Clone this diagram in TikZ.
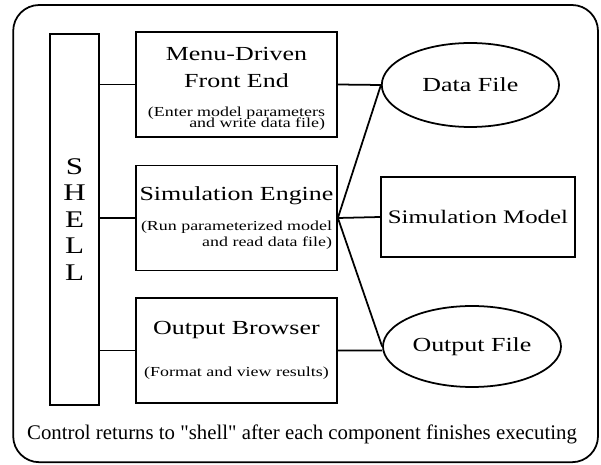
\documentclass[tikz,border=0pt]{standalone}
\usepackage{fontspec}
\setmainfont{Liberation Serif}[FakeStretch=1.3]
% plain family: no stretch and no TeX quote ligatures
\newfontfamily\plainrm{Liberation Serif}
\usetikzlibrary{
    shapes.geometric,
    positioning
}

\newcommand{\bigtxt}{\fontsize{14.2}{19}\selectfont}
\newcommand{\notetxt}{\fontsize{9.8}{12}\selectfont}
\newcommand{\shelltxt}{\fontsize{17}{18.8}\selectfont}

\begin{document}
\begin{tikzpicture}[
    line width=1.25pt,
    unit/.style={draw, rectangle, minimum width=5.025cm, minimum height=2.625cm,
        align=center, font=\bigtxt, inner sep=0pt},
    store/.style={draw, ellipse, minimum width=4.43cm, minimum height=2.1cm,
        font=\bigtxt, inner sep=0pt}
]
    \useasboundingbox (0, 0) rectangle (15.025, 11.625);
    \draw[rounded corners=0.65cm] (0.33, 0.07) rectangle (14.95, 11.5);

    % the shell and the three programs it starts
    \node[draw, minimum width=1.225cm, minimum height=9.275cm, align=center,
        font=\shelltxt] (shell) at (1.8625, 6.1375) {S\\H\\E\\L\\L};
    \node[unit] (front) at (5.9125, 9.5125) {\rule{0pt}{15.4pt}Menu-Driven\\Front End\\[9.5pt]
        \notetxt\shortstack[r]{(Enter model parameters\\[-4pt]and write data file)}};
    \node[unit] (engine) at (5.9125, 6.175) {Simulation Engine\\[10.5pt]
        \notetxt\shortstack[r]{(Run parameterized model\\[-0.8pt]and read data file)}};
    \node[unit] (browser) at (5.9125, 2.8625) {Output Browser\\[11pt]
        {\notetxt (Format and view results)}};

    % files and the model
    \node[store] (data) at (11.76, 9.5) {Data File};
    \node[draw, minimum width=4.85cm, minimum height=2cm, font=\fontsize{13.6}{19}\selectfont,
        inner sep=0pt] (model) at (11.95, 6.2) {Simulation Model};
    \node[store, minimum width=4.45cm, minimum height=2.025cm] (output)
        at (11.8, 2.9625) {Output File};

    \draw
    (shell.east |- front.west) -- (front.west)
    (shell.east |- engine.west) -- (engine.west)
    (shell.east |- browser.west) -- (browser.west);
    \draw
    (front.east) -- (data.west)
    (engine.east) -- (data.west)
    (engine.east) -- (model.west)
    (engine.east) -- (output.west)
    (browser.east) -- (browser.east -| output.west);

    \node[font=\plainrm\fontsize{14.8}{19}\selectfont, anchor=base] (note) at (7.55, 0.625)
        {Control returns to "shell" after each component finishes executing};
\end{tikzpicture}
\end{document}
